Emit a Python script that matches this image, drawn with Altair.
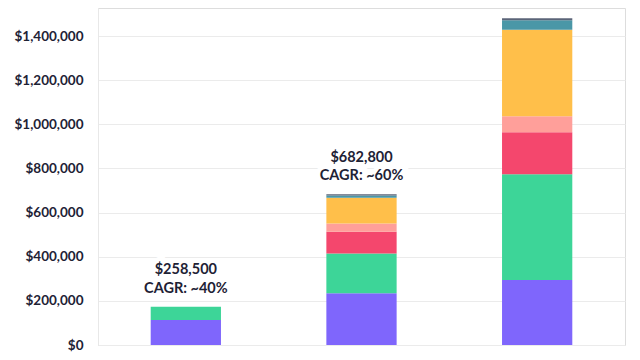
import altair as alt
import pandas as pd

# ---- data ----
periods = ["2019 Run Rate", "2020 Run Rate", "2021 Projection"]
segments = ["Segment A", "Segment B", "Segment C", "Segment D", "Segment E", "Segment F", "Segment G"]
colors = ["#7F66FC", "#3DD598", "#F4476D", "#FF9F9A", "#FFBF4A", "#4A97A7", "#5B6478"]
values_2019 = [113000, 60000, 0, 0, 0, 0, 0]
values_2020 = [234000, 181000, 98000, 38000, 116000, 10000, 6000]
values_2021 = [294000, 480000, 190000, 72000, 393000, 42000, 9000]
label_amounts = ["$258,500", "$682,800", ""]
label_cagr = ["CAGR: ~40%", "CAGR: ~60%", ""]
y_ticks = [0, 200000, 400000, 600000, 800000, 1000000, 1200000, 1400000]

rows = []
for p, vals in zip(periods, [values_2019, values_2020, values_2021]):
    for i, (s, v) in enumerate(zip(segments, vals)):
        rows.append({"period": p, "segment": s, "value": v, "order": i})
df = pd.DataFrame(rows)

totals = [sum(v) for v in [values_2019, values_2020, values_2021]]
labels = pd.DataFrame({
    "period": periods,
    "total": totals,
    "amount": label_amounts,
    "cagr": label_cagr,
})
labels = labels[labels["amount"] != ""]

FONT = "Lato"
INK = "#1E2235"

x_enc = alt.X(
    "period:N",
    sort=periods,
    title=None,
    scale=alt.Scale(paddingInner=0.6, paddingOuter=0.3),
    axis=alt.Axis(labelAngle=0, domain=False, ticks=False, labelFont=FONT,
                  labelFontSize=13.5, labelFontWeight="bold", labelColor=INK,
                  labelPadding=10),
)

y_scale = alt.Scale(domain=[0, 1527000], nice=False, zero=True)

bars = alt.Chart(df).mark_bar().encode(
    x=x_enc,
    y=alt.Y(
        "sum(value):Q",
        stack="zero",
        scale=y_scale,
        title=None,
        axis=alt.Axis(values=y_ticks, format="$,.0f", grid=True, gridColor="#EBEBEB",
                      domain=True, domainColor="#E8E8E8", ticks=False,
                      labelFont=FONT, labelFontSize=13.5, labelFontWeight="bold",
                      labelColor=INK, labelPadding=15),
    ),
    color=alt.Color("segment:N", scale=alt.Scale(domain=segments, range=colors), legend=None),
    order=alt.Order("order:Q", sort="ascending"),
)

base_lbl = alt.Chart(labels).encode(
    x=alt.X("period:N", sort=periods),
    y=alt.Y("total:Q", scale=y_scale),
)

halo1 = base_lbl.mark_text(font=FONT, fontSize=14.5, fontWeight="bold", dy=-36.5,
                           baseline="middle", stroke="white", strokeWidth=9,
                           color="white").encode(text="amount:N")
halo2 = base_lbl.mark_text(font=FONT, fontSize=14.5, fontWeight="bold", dy=-18,
                           baseline="middle", stroke="white", strokeWidth=9,
                           color="white").encode(text="cagr:N")
text1 = base_lbl.mark_text(font=FONT, fontSize=14.5, fontWeight="bold", dy=-36.5,
                           baseline="middle", color=INK).encode(text="amount:N")
text2 = base_lbl.mark_text(font=FONT, fontSize=14.5, fontWeight="bold", dy=-18,
                           baseline="middle", color=INK).encode(text="cagr:N")

chart = alt.layer(bars, halo1, halo2, text1, text2).properties(
    width=527,
    height=337,
    autosize=alt.AutoSizeParams(type="none"),
    padding={"left": 90, "top": 0, "right": 7, "bottom": 7},
).configure_view(stroke=None).configure(background="white")

chart.save("out.html", embed_options={"renderer": "svg", "actions": False})
